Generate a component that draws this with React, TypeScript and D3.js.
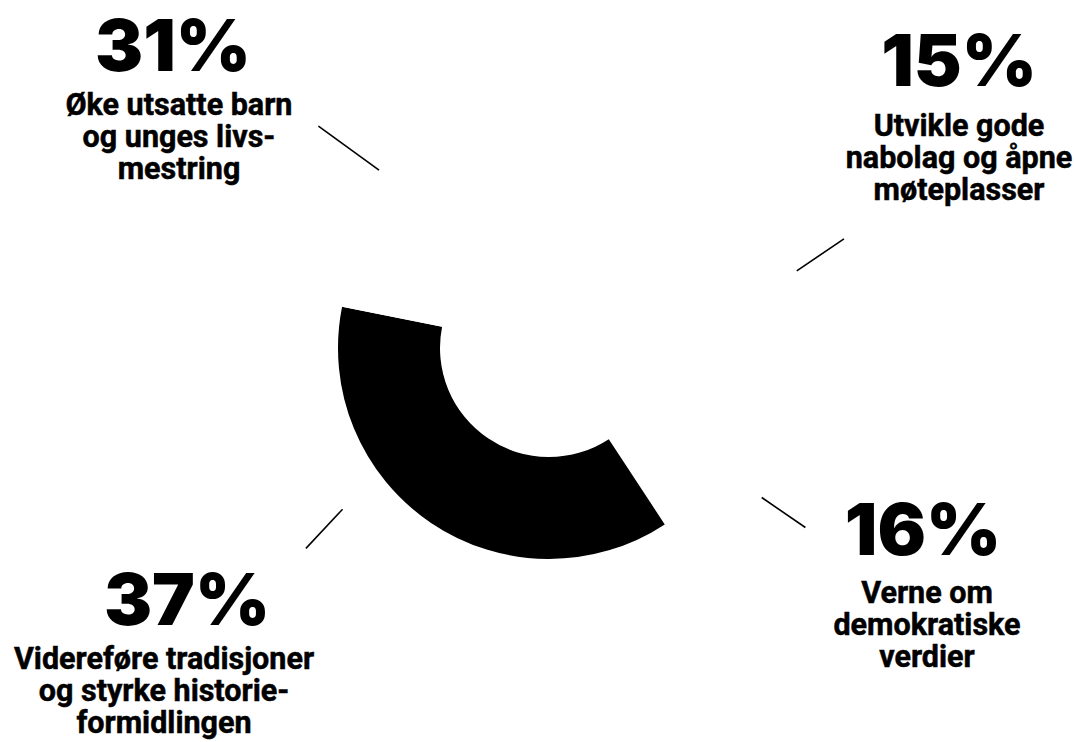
import React from "react";
import * as d3 from "d3";

// ---- data ----
const categories = [
  "Utvikle gode nabolag og åpne møteplasser",
  "Verne om demokratiske verdier",
  "Videreføre tradisjoner og styrke historieformidlingen",
  "Øke utsatte barn og unges livsmestring",
];
const values = [15, 16, 37, 31];
const percentLabels = ["15%", "16%", "37%", "31%"];
const labelLines = [
  ["Utvikle gode", "nabolag og åpne", "møteplasser"],
  ["Verne om", "demokratiske", "verdier"],
  ["Videreføre tradisjoner", "og styrke historie-", "formidlingen"],
  ["Øke utsatte barn", "og unges livs-", "mestring"],
];
const sliceColors = ["#ffffff", "#ffffff", "#000000", "#ffffff"];

// ---- layout ----
const W = 1074;
const H = 742;
const cx = 549;
const cy = 348;
const outerR = 211;
const innerR = 109;
const startDeg = 34;
const lineStep = 32;

// label layout per slice: percent centre/baseline, text centre/first baseline,
// leader line from (a0, r0) to (a1, r1) in polar coordinates around the donut centre
const labelLayout = [
  { px: 959, py: 86, tx: 959, ty: 136, a0: 72.7, r0: 259.5, a1: 69.7, r1: 314.5 },
  { px: 923, py: 555, tx: 927, ty: 603, a0: 125.1, r0: 260, a1: 125.0, r1: 313 },
  { px: 187, py: 625, tx: 164, ty: 669, a0: 232.0, r0: 262, a1: 230.5, r1: 315 },
  { px: 173, py: 71, tx: 179, ty: 115, a0: 316.3, r0: 246, a1: 313.9, r1: 320 },
];

const polar = (deg: number, r: number): [number, number] => {
  const a = (deg * Math.PI) / 180;
  return [Math.sin(a) * r, -Math.cos(a) * r];
};

export default function App() {
  const pie = d3
    .pie<number>()
    .sort(null)
    .value((d) => d)
    .startAngle((startDeg * Math.PI) / 180)
    .endAngle((startDeg * Math.PI) / 180 + 2 * Math.PI);
  const arcs = pie(values);
  const arc = d3.arc<d3.PieArcDatum<number>>().innerRadius(innerR).outerRadius(outerR);

  const lineGen = d3.line();

  return (
    <svg width={W} height={H} style={{ position: "absolute", left: 0, top: 0, background: "#fff" }}>
      <g transform={`translate(${cx},${cy})`}>
        {arcs.map((a, i) => (
          <path key={categories[i]} d={arc(a) || ""} fill={sliceColors[i]} />
        ))}
        {labelLayout.map((l, i) => (
          <path
            key={"ld" + i}
            d={lineGen([polar(l.a0, l.r0), polar(l.a1, l.r1)]) || ""}
            stroke="#000"
            strokeWidth={1.6}
            fill="none"
          />
        ))}
      </g>
      {labelLayout.map((l, i) => (
        <g key={"lb" + i}>
          <text
            x={l.px}
            y={l.py}
            textAnchor="middle"
            fontFamily="Inter, Roboto, sans-serif"
            fontWeight={900}
            fontSize={72}
            fill="#000"
          >
            {percentLabels[i]}
          </text>
          {labelLines[i].map((line, j) => (
            <text
              key={j}
              x={l.tx}
              y={l.ty + j * lineStep}
              textAnchor="middle"
              fontFamily="Roboto, Inter, sans-serif"
              fontWeight={700}
              fontSize={30.5}
              stroke="#000"
              strokeWidth={0.5}
              fill="#000"
            >
              {line}
            </text>
          ))}
        </g>
      ))}
    </svg>
  );
}
